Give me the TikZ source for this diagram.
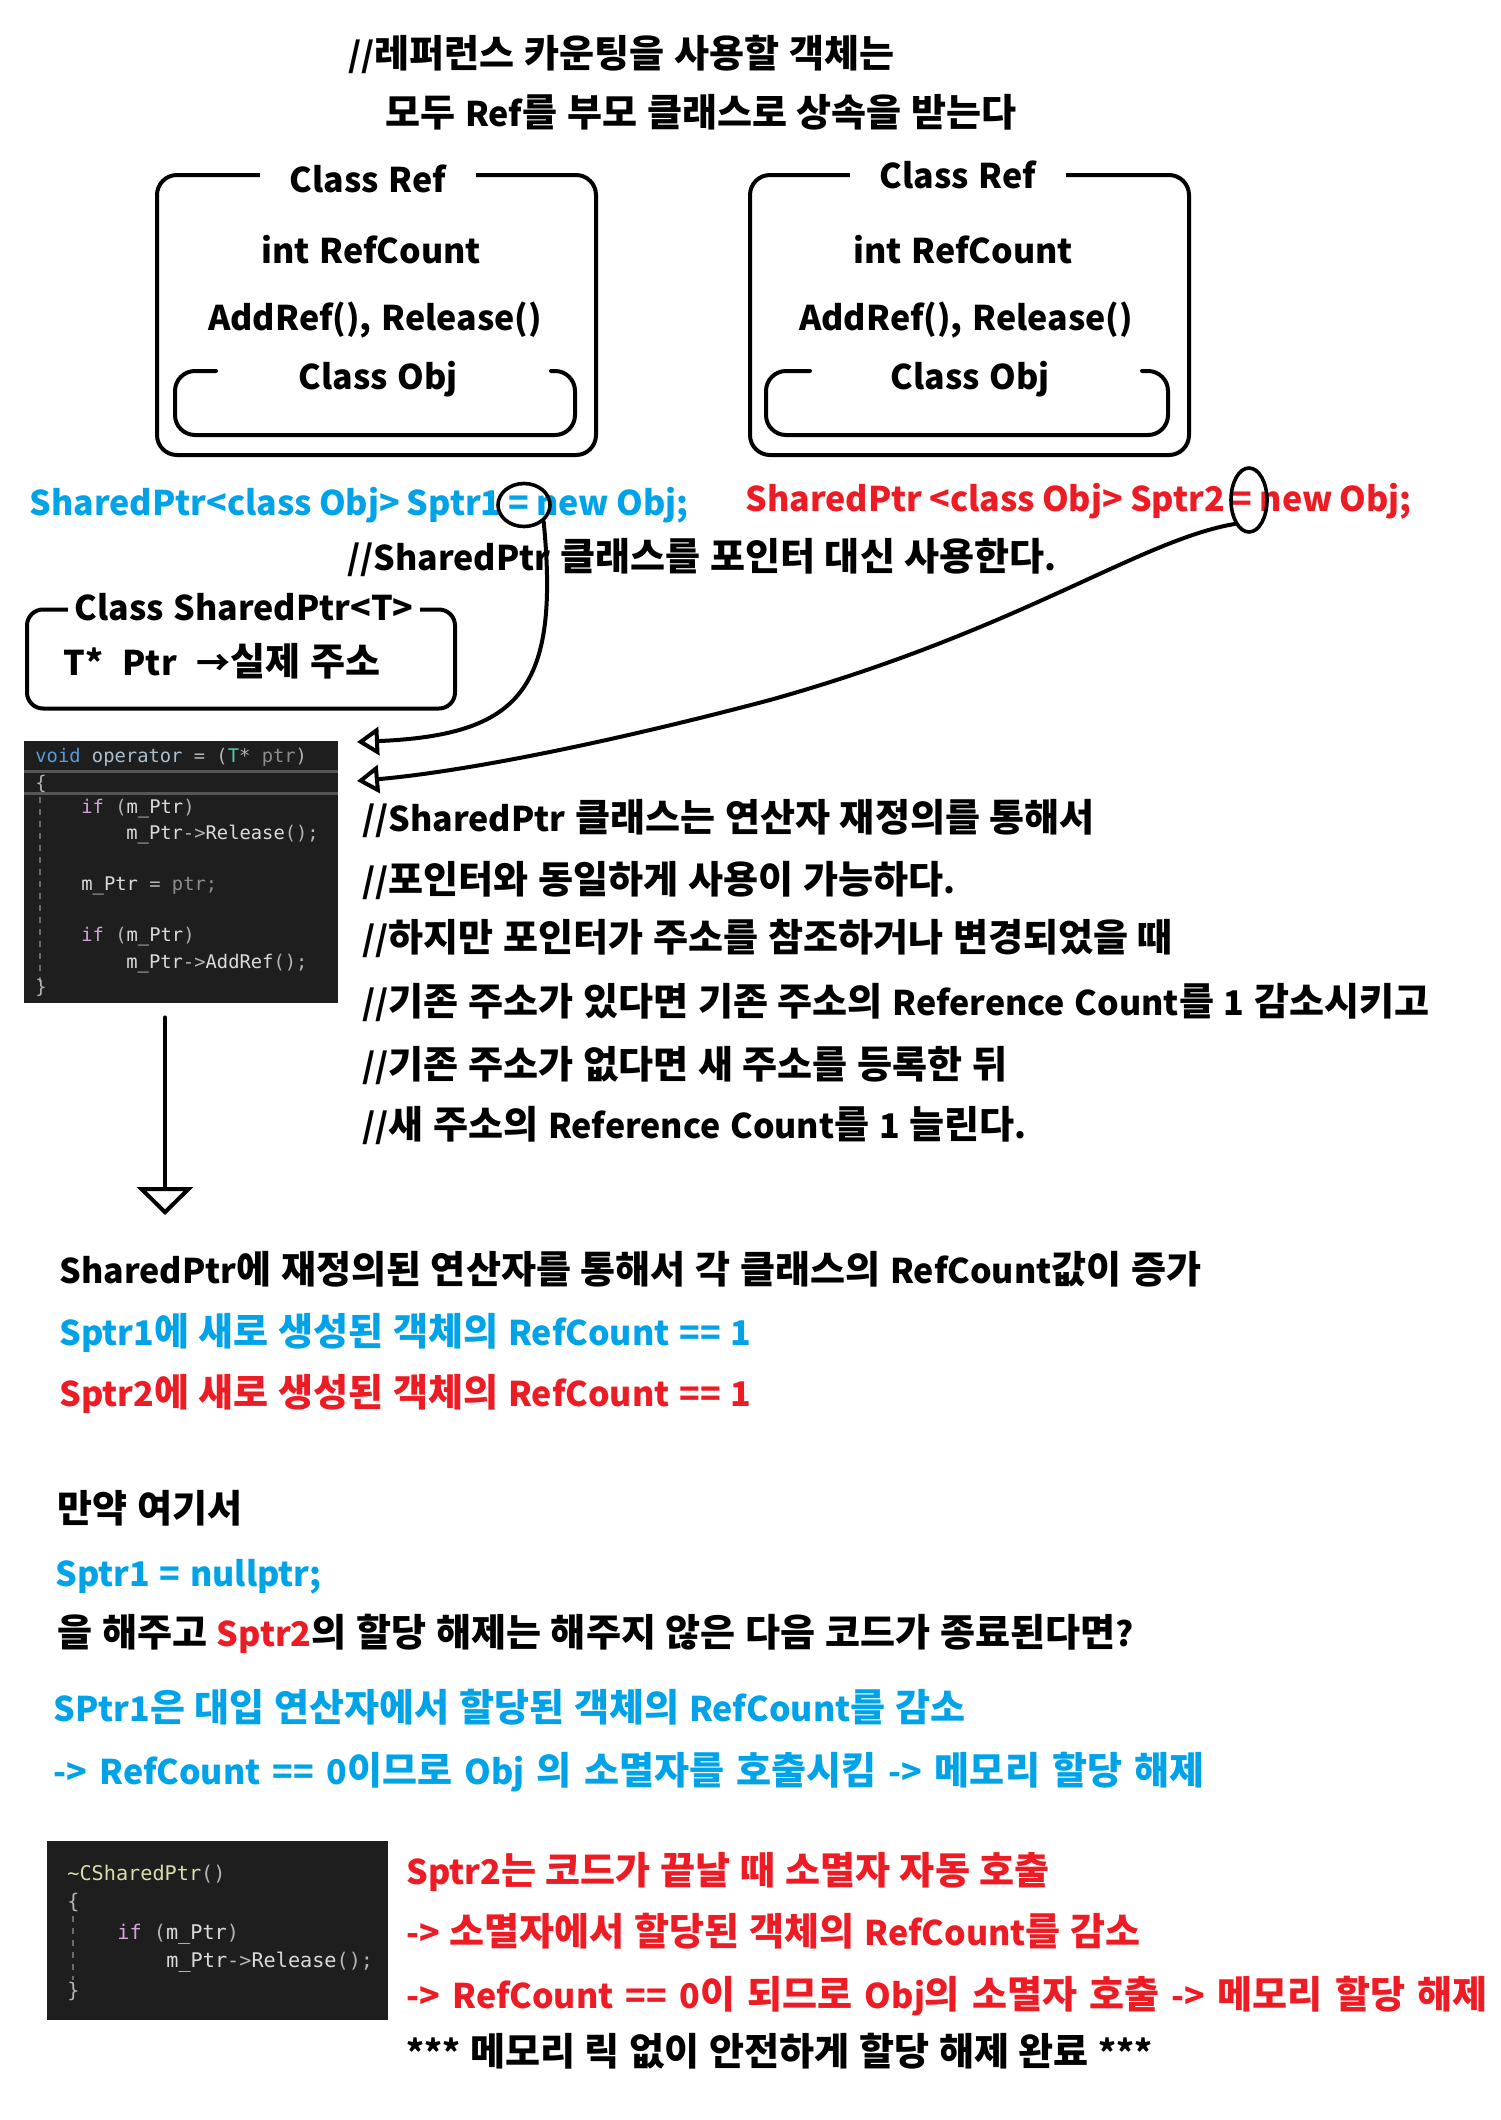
\documentclass[tikz,border=0pt]{standalone}
\usepackage{fontspec}
\setmainfont{Noto Sans CJK KR}[WordSpace=1.25]
\setmonofont{DejaVu Sans Mono}
\newfontfamily\hangulfont{Noto Sans CJK KR}[Scale=1.12]
\usetikzlibrary{shapes.geometric,arrows.meta}

% Hangul syllables a little larger than the Latin letters
\XeTeXinterchartokenstate=1
\newXeTeXintercharclass\hangulclass
\newcount\hcode
\hcode="AC00
\loop
  \XeTeXcharclass\hcode=\hangulclass
  \ifnum\hcode<"D7A3 \advance\hcode by 1
\repeat
\XeTeXinterchartoks 0 \hangulclass = {\begingroup\hangulfont}
\XeTeXinterchartoks 4095 \hangulclass = {\begingroup\hangulfont}
\XeTeXinterchartoks \hangulclass 0 = {\endgroup}
\XeTeXinterchartoks \hangulclass 4095 = {\endgroup}

\definecolor{skyblue}{RGB}{0,162,232}
\definecolor{paintred}{RGB}{237,28,36}
\definecolor{codebg}{RGB}{30,30,30}
\definecolor{kwblue}{RGB}{86,156,214}
\definecolor{kwpink}{RGB}{216,160,223}
\definecolor{typeteal}{RGB}{78,201,176}
\definecolor{fnyellow}{RGB}{220,220,170}
\definecolor{codegray}{RGB}{180,180,180}
\definecolor{parmgray}{RGB}{140,140,140}
\definecolor{codewhite}{RGB}{218,218,218}
\definecolor{opblue}{RGB}{170,190,205}

\newcommand{\kw}[1]{\textcolor{kwblue}{#1}}
\newcommand{\kp}[1]{\textcolor{kwpink}{#1}}
\newcommand{\cg}[1]{\textcolor{codegray}{#1}}
\newcommand{\narrowsp}{\spaceskip=0.21em plus 0.1em\relax}
\newcommand{\widesp}{\spaceskip=0.36em plus 0.1em\relax}

\begin{document}
\begin{tikzpicture}[x=0.5pt,y=-0.5pt,
txt/.style={anchor=west,inner sep=0pt,text height=14pt,text depth=1pt,font=\fontsize{17}{20}\selectfont\bfseries},
narrow/.style={txt,font=\fontsize{17}{20}\selectfont\bfseries\narrowsp},
wide/.style={txt,font=\fontsize{17}{20}\selectfont\bfseries\widesp},
mid/.style={txt,anchor=center},
refbox/.style={draw,line width=2pt,rounded corners=10pt,minimum width=219.5pt,minimum height=140pt},
lbl/.style={mid,fill=white,inner xsep=15pt},
ring/.style={ellipse,draw,line width=1.8pt,inner sep=0pt},
pen/.style={line width=2pt,line cap=round,line join=round},
codebox/.style={fill=codebg,inner sep=0pt},
codeln/.style={anchor=west,inner sep=0pt,text height=7pt,text depth=0.4pt,text=codewhite,font=\fontsize{9.4}{11}\selectfont\ttfamily},
codeln2/.style={codeln,text height=7.5pt,font=\fontsize{10.1}{12}\selectfont\ttfamily},
tipopen/.style={-{Triangle[open,length=11pt,width=14pt]}}
]
\useasboundingbox (0,0) rectangle (1500,2120);

% title
\node[txt] (t1) at (348,54) {//레퍼런스 카운팅을 사용할 객체는};
\node[txt] (t2) at (385,113) {모두 Ref를 부모 클래스로 상속을 받는다};

% two Ref objects
\node[refbox] (ref1) at (376.5,315) {};
\node[refbox] (ref2) at (969.5,315) {};
\node[lbl] (ref1name) at (368,179) {Class Ref};
\node[lbl] (ref2name) at (958,175) {Class Ref};
\node[mid] (cnt1) at (371,250) {int RefCount};
\node[mid] (cnt2) at (963,250) {int RefCount};
\node[mid] (fn1) at (375,317) {AddRef(), Release()};
\node[mid] (fn2) at (966,317) {AddRef(), Release()};
\draw[pen,rounded corners=10pt] (216,371) -- (175,371) -- (175,435) -- (575,435) -- (575,371) -- (551,371);
\draw[pen,rounded corners=10pt] (810,371) -- (766,371) -- (766,435) -- (1168,435) -- (1168,371) -- (1142,371);
\node[mid] (obj1) at (378,376) {Class Obj};
\node[mid] (obj2) at (970,376) {Class Obj};

% assignments
\node[narrow,text=skyblue] (decl1) at (29,502) {SharedPtr<class Obj> Sptr1 = new Obj;};
\node[narrow,text=paintred] (decl2) at (745,498) {SharedPtr <class Obj> Sptr2 = new Obj;};
\node[ring,minimum width=26pt,minimum height=21.5pt] (eq1) at (524,505) {};
\node[ring,minimum width=18pt,minimum height=32pt] (eq2) at (1249,500) {};
\node[txt] (note1) at (347,557) {//SharedPtr 클래스를 포인터 대신 사용한다.};

% SharedPtr class
\node[draw,line width=2pt,rounded corners=8pt,minimum width=214pt,minimum height=49.5pt] (sp) at (241,659) {};
\node[mid,fill=white,inner xsep=3pt] (spname) at (244,607) {Class SharedPtr<T>};
\node[txt] (spptr) at (63,662) {T*~~Ptr ~→실제 주소};

% operator = code
\node[codebox,minimum width=157pt,minimum height=131pt] (code1) at (181,872) {};
\draw[line width=1.5pt,color=codebg!75!white] (code1.west |- 0,771) -- (code1.east |- 0,771);
\draw[line width=1.5pt,color=codebg!75!white] (code1.west |- 0,793) -- (code1.east |- 0,793);
\draw[parmgray!70!codebg,line width=0.6pt,dashed] (40,797) -- (40,982);
\node[codeln] (c1a) at (35,756) {\kw{void} \textcolor{opblue}{operator} \cg{=} \cg{(}\textcolor{typeteal}{T}\cg{*} \textcolor{parmgray}{ptr}\cg{)}};
\node[codeln] (c1b) at (35,783) {\cg{\{}};
\node[codeln] (c1c) at (81,807) {\kp{if} \cg{(}m\_Ptr\cg{)}};
\node[codeln] (c1d) at (126,833) {m\_Ptr\cg{->}Release\cg{();}};
\node[codeln] (c1e) at (81,884) {m\_Ptr \cg{=} \textcolor{parmgray}{ptr;}};
\node[codeln] (c1f) at (81,935) {\kp{if} \cg{(}m\_Ptr\cg{)}};
\node[codeln] (c1g) at (126,962) {m\_Ptr\cg{->}AddRef\cg{();}};
\node[codeln] (c1h) at (35,987) {\cg{\}}};

% arrows into operator =
\coordinate (in1) at (357,742);
\coordinate (in2) at (357,781);
\coordinate (out1) at (165,1215);
\draw[pen,tipopen] (eq1.south east) .. controls (560,690) and (520,735) .. (in1);
\draw[pen,tipopen] (eq2.south west) .. controls (1140,540) and (1020,630) .. (770,700) .. controls (600,745) and (460,772) .. (in2);
\draw[pen,-{Triangle[open,length=14pt,width=28pt]}] ([xshift=-8pt,yshift=-7pt]code1.south) -- (out1);

% comments
\node[txt] (cm1) at (362,818) {//SharedPtr 클래스는 연산자 재정의를 통해서};
\node[txt] (cm2) at (362,880) {//포인터와 동일하게 사용이 가능하다.};
\node[txt] (cm3) at (362,938) {//하지만 포인터가 주소를 참조하거나 변경되었을 때};
\node[txt] (cm4) at (362,1002) {//기존 주소가 있다면 기존 주소의 Reference Count를 1 감소시키고};
\node[txt] (cm5) at (362,1065) {//기존 주소가 없다면 새 주소를 등록한 뒤};
\node[txt] (cm6) at (362,1125) {//새 주소의 Reference Count를 1 늘린다.};

% result
\node[txt] (r1) at (59,1270) {SharedPtr에 재정의된 연산자를 통해서 각 클래스의 RefCount값이 증가};
\node[txt,text=skyblue] (r2) at (59,1332) {Sptr1에 새로 생성된 객체의 RefCount == 1};
\node[txt,text=paintred] (r3) at (59,1393) {Sptr2에 새로 생성된 객체의 RefCount == 1};
\node[txt] (q1) at (57,1509) {만약 여기서};
\node[txt,text=skyblue] (q2) at (55,1573) {Sptr1 = nullptr;};
\node[txt] (q3) at (57,1633) {을 해주고 \textcolor{paintred}{Sptr2}의 할당 해제는 해주지 않은 다음 코드가 종료된다면?};
\node[txt,text=skyblue] (a1) at (53,1708) {SPtr1은 대입 연산자에서 할당된 객체의 RefCount를 감소};
\node[wide,text=skyblue] (a2) at (53,1771) {-> RefCount == 0이므로 Obj 의 소멸자를 호출시킴 -> 메모리 할당 해제};

% destructor code
\node[codebox,minimum width=170.5pt,minimum height=89.5pt] (code2) at (217.5,1930.5) {};
\draw[parmgray!70!codebg,line width=0.6pt,dashed] (73,1916) -- (73,1980);
\node[codeln2] (c2a) at (67,1873) {\textcolor{fnyellow}{\textasciitilde CSharedPtr}\cg{()}};
\node[codeln2] (c2b) at (67,1901) {\cg{\{}};
\node[codeln2] (c2c) at (117,1932) {\kp{if} \cg{(}m\_Ptr\cg{)}};
\node[codeln2] (c2d) at (166,1960) {m\_Ptr\cg{->}Release\cg{();}};
\node[codeln2] (c2e) at (67,1990) {\cg{\}}};

\node[txt,text=paintred] (b1) at (406,1871) {Sptr2는 코드가 끝날 때 소멸자 자동 호출};
\node[txt,text=paintred] (b2) at (406,1932) {-> 소멸자에서 할당된 객체의 RefCount를 감소};
\node[wide,text=paintred] (b3) at (406,1995) {-> RefCount == 0이 되므로 Obj의 소멸자 호출 -> 메모리 할당 해제};
\node[txt] (b4) at (406,2052) {*** 메모리 릭 없이 안전하게 할당 해제 완료 ***};
\end{tikzpicture}
\end{document}
